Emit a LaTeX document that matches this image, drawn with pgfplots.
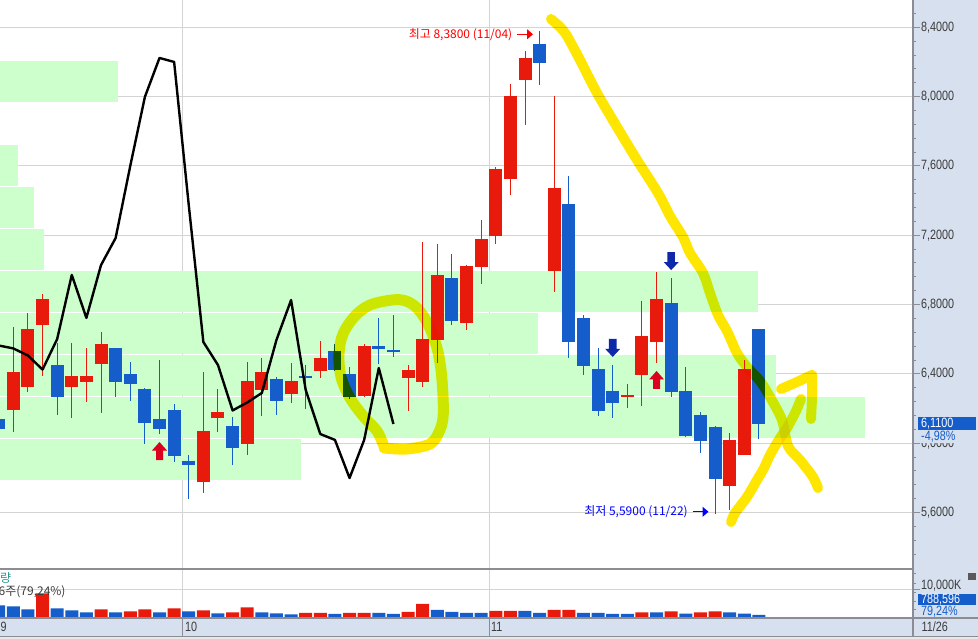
\documentclass[border=0pt]{standalone}
\usepackage{fontspec}
\setmainfont{Liberation Sans}
\newfontfamily\gul[FakeStretch=0.8]{Liberation Sans}
\newfontfamily\kr{Noto Sans CJK KR}
\usepackage{pgfplots}
\usepackage{pgfplotstable}
\pgfplotsset{compat=1.18}
\usetikzlibrary{arrows.meta}

\definecolor{upred}{RGB}{232,26,12}
\definecolor{dnblue}{RGB}{20,93,202}
\definecolor{band}{RGB}{204,255,204}
\definecolor{panel}{RGB}{214,224,238}
\definecolor{gridc}{RGB}{212,212,212}
\definecolor{edge}{RGB}{140,140,148}
\definecolor{lbl}{RGB}{60,60,60}
\definecolor{hl}{RGB}{255,230,0}
\definecolor{sigred}{RGB}{218,0,30}
\definecolor{sigblue}{RGB}{14,40,170}
\definecolor{teal2}{RGB}{40,150,150}

% block arrows used by the signal markers
\pgfdeclareplotmark{sigup}{%
  \pgfpathmoveto{\pgfpoint{0pt}{9pt}}%
  \pgfpathlineto{\pgfpoint{7.5pt}{0.5pt}}%
  \pgfpathlineto{\pgfpoint{3.5pt}{0.5pt}}%
  \pgfpathlineto{\pgfpoint{3.5pt}{-9pt}}%
  \pgfpathlineto{\pgfpoint{-3.5pt}{-9pt}}%
  \pgfpathlineto{\pgfpoint{-3.5pt}{0.5pt}}%
  \pgfpathlineto{\pgfpoint{-7.5pt}{0.5pt}}%
  \pgfpathclose\pgfusepathqfill}
\pgfdeclareplotmark{sigdown}{%
  \pgfpathmoveto{\pgfpoint{0pt}{-9pt}}%
  \pgfpathlineto{\pgfpoint{7.5pt}{-1pt}}%
  \pgfpathlineto{\pgfpoint{3.8pt}{-1pt}}%
  \pgfpathlineto{\pgfpoint{3.8pt}{9pt}}%
  \pgfpathlineto{\pgfpoint{-3.8pt}{9pt}}%
  \pgfpathlineto{\pgfpoint{-3.8pt}{-1pt}}%
  \pgfpathlineto{\pgfpoint{-7.5pt}{-1pt}}%
  \pgfpathclose\pgfusepathqfill}

% up days (red): index, open, high, low, close
\pgfplotstableread{
k o h l c
0 6.192 6.671 6.065 6.411
1 6.325 6.752 6.296 6.659
2 6.682 6.861 6.388 6.832
4 6.325 6.578 6.146 6.388
5 6.353 6.550 6.238 6.388
6 6.457 6.642 6.175 6.573
13 5.776 6.411 5.713 6.071
14 6.146 6.313 6.065 6.180
16 5.996 6.469 5.932 6.359
17 6.307 6.492 6.157 6.411
19 6.284 6.463 6.232 6.359
21 6.417 6.590 6.376 6.492
24 6.273 6.573 6.267 6.561
27 6.376 6.451 6.186 6.423
28 6.353 7.161 6.325 6.601
29 6.596 7.150 6.463 6.971
31 6.694 7.028 6.653 7.023
32 7.017 7.288 6.919 7.178
33 7.196 7.594 7.150 7.582
34 7.525 8.073 7.432 8.004
35 8.096 8.263 7.836 8.223
37 6.994 8.004 6.873 7.473
42 6.267 6.342 6.203 6.278
43 6.394 6.821 6.215 6.619
44 6.584 6.988 6.463 6.832
49 5.753 6.059 5.615 6.019
50 5.932 6.480 5.932 6.428
}\upc

% down days (blue)
\pgfplotstableread{
k o h l c
-1 6.140 6.150 6.070 6.082
3 6.451 6.578 6.163 6.267
7 6.550 6.550 6.267 6.353
8 6.400 6.469 6.244 6.342
9 6.313 6.319 5.996 6.117
10 6.140 6.480 6.053 6.082
11 6.192 6.226 5.892 5.926
12 5.898 5.932 5.678 5.874
15 6.100 6.151 5.874 5.973
18 6.371 6.382 6.163 6.244
20 6.388 6.451 6.198 6.376
22 6.532 6.573 6.417 6.423
23 6.400 6.440 6.255 6.267
25 6.561 6.723 6.457 6.544
26 6.538 6.740 6.498 6.527
30 6.953 7.092 6.682 6.705
36 8.304 8.380 8.067 8.194
38 7.380 7.542 6.492 6.584
39 6.723 6.740 6.394 6.446
40 6.428 6.550 6.157 6.186
41 6.301 6.451 6.146 6.232
45 6.809 6.953 6.267 6.296
46 6.301 6.440 6.036 6.042
47 6.163 6.180 5.944 6.013
48 6.094 6.100 5.590 5.794
51 6.659 6.659 6.024 6.110
}\dnc

% volume in thousands
\pgfplotstableread{
k v
2 8640
6 2800
8 2070
9 2800
11 3160
13 2430
15 1700
16 3530
20 1460
21 1460
23 1460
24 1460
27 1825
28 4745
33 2190
34 2190
37 2555
38 2555
43 1700
45 2080
47 1700
48 2080
}\volup
\pgfplotstableread{
k v
-1 4260
0 3900
1 2800
3 3160
4 2430
5 1700
7 1700
10 1700
12 2070
14 1340
17 1700
18 1340
19 975
22 1095
25 1460
26 1095
29 2555
30 1825
31 1460
32 1460
35 2190
36 1460
39 1460
40 1460
41 1095
42 1095
44 1700
46 1240
49 1700
50 1240
51 790
}\voldn

\begin{document}
\begin{tikzpicture}[
  px/.style={x=1pt,y=-1pt,shift={(0pt,639pt)}},
  lab/.style={inner sep=0pt, font=\gul\fontsize{13.5}{14}\selectfont, text=lbl}]
\begin{scope}[px]
  \fill[white] (0,0) rectangle (978,639);
  \fill[panel] (913,0) rectangle (978,618);
  \fill[panel] (0,618) rectangle (978,636.5);
  \fill[black!9] (0,636.5) rectangle (978,639);
\end{scope}

% ---------------- price panel ----------------
\begin{axis}[
  at={(0pt,71pt)}, anchor=south west, scale only axis,
  width=913pt, height=568pt,
  xmin=-0.91, xmax=61.54, ymin=5.28, ymax=8.5575,
  axis line style={draw=none},
  xtick={11.55,32.55}, xticklabels={},
  xmajorgrids, ymajorgrids,
  major grid style={gridc, line width=1pt},
  ytick={5.6,6.0,6.4,6.8,7.2,7.6,8.0,8.4},
  yticklabels={{5,6000},{6,0000},{6,4000},{6,8000},{7,2000},{7,6000},{8,0000},{8,4000}},
  minor ytick={5.36,5.44,...,8.56},
  ytick pos=right, yticklabel pos=right,
  tick align=outside, major tick length=7pt, minor tick length=3pt,
  tick style={edge, line width=1pt},
  xtick style={draw=none},
  yticklabel style={lab, anchor=west, inner sep=1pt},
]
% price-by-volume bands
\addplot[fill=band, draw=none] coordinates {(-2,7.969) (7.16,7.969) (7.16,8.2055) (-2,8.2055)} -- cycle;
\addplot[fill=band, draw=none] coordinates {(-2,7.4842) (0.32,7.4842) (0.32,7.7208) (-2,7.7208)} -- cycle;
\addplot[fill=band, draw=none] coordinates {(-2,7.2419) (1.42,7.2419) (1.42,7.4784) (-2,7.4784)} -- cycle;
\addplot[fill=band, draw=none] coordinates {(-2,6.9995) (2.10,6.9995) (2.10,7.2361) (-2,7.2361)} -- cycle;
\addplot[fill=band, draw=none] coordinates {(-2,6.7572) (50.94,6.7572) (50.94,6.9937) (-2,6.9937)} -- cycle;
\addplot[fill=band, draw=none] coordinates {(-2,6.5148) (35.89,6.5148) (35.89,6.7514) (-2,6.7514)} -- cycle;
\addplot[fill=band, draw=none] coordinates {(-2,6.2725) (52.2,6.2725) (52.2,6.5090) (-2,6.5090)} -- cycle;
\addplot[fill=band, draw=none] coordinates {(-2,6.0301) (58.26,6.0301) (58.26,6.2667) (-2,6.2667)} -- cycle;
\addplot[fill=band, draw=none] coordinates {(-2,5.7878) (19.68,5.7878) (19.68,6.0244) (-2,6.0244)} -- cycle;

% candles: wick from low to high, body from open to close
\addplot[draw=none, mark=none,
  error bars/.cd, y dir=plus, y explicit, error mark=none,
  error bar style={draw=upred, line width=1pt}]
  table[x=k, y=l, y error plus expr=\thisrow{h}-\thisrow{l}] {\upc};
\addplot[draw=none, mark=none,
  error bars/.cd, y dir=plus, y explicit, error mark=none,
  error bar style={draw=upred, line width=13pt}]
  table[x=k, y=o, y error plus expr=\thisrow{c}-\thisrow{o}] {\upc};
\addplot[draw=none, mark=none,
  error bars/.cd, y dir=plus, y explicit, error mark=none,
  error bar style={draw=dnblue, line width=1pt}]
  table[x=k, y=l, y error plus expr=\thisrow{h}-\thisrow{l}] {\dnc};
\addplot[draw=none, mark=none,
  error bars/.cd, y dir=plus, y explicit, error mark=none,
  error bar style={draw=dnblue, line width=13pt}]
  table[x=k, y=c, y error plus expr=\thisrow{o}-\thisrow{c}] {\dnc};

% black overlay line
\addplot[black, line width=2.4pt, line join=round] coordinates {
(-1,6.564) (0,6.547) (1,6.506) (2,6.425) (3,6.601) (4,6.971) (5,6.723)
(6,7.028) (7,7.184) (8,7.600) (9,7.998) (10,8.223) (11,8.200) (12,7.375)
(13,6.584) (14,6.451) (15,6.189) (16,6.235) (17,6.290) (18,6.596) (19,6.826)
(20,6.307) (21,6.053) (22,6.019) (23,5.799) (24,6.019) (25,6.434) (26,6.111)};

% signals
\addplot[sigred, only marks, mark=sigup] coordinates {(10,5.955) (44,6.365)};
\addplot[sigblue, only marks, mark=sigdown] coordinates {(41,6.550) (45,7.051)};
\end{axis}

% ---------------- volume panel ----------------
\begin{axis}[
  at={(0pt,22pt)}, anchor=south west, scale only axis,
  width=913pt, height=48pt,
  xmin=-0.91, xmax=61.54, ymin=0, ymax=17518,
  axis line style={draw=none},
  xtick={11.55,32.55}, xticklabels={},
  xmajorgrids, ymajorgrids,
  major grid style={gridc, line width=1pt},
  scaled y ticks=false,
  ytick={10000}, yticklabels={{10,000K},{}},
  minor ytick={2600,5500,8800,12400,16000},
  ytick pos=right, yticklabel pos=right,
  tick align=outside, major tick length=7pt, minor tick length=3pt,
  tick style={edge, line width=1pt},
  xtick style={draw=none},
  yticklabel style={lab, anchor=west, inner sep=1pt, yshift=3.5pt},
]
\addplot[ybar, bar width=13pt, bar shift=0pt, fill=upred, draw=none] table[x=k, y=v] {\volup};
\addplot[ybar, bar width=13pt, bar shift=0pt, fill=dnblue, draw=none] table[x=k, y=v] {\voldn};
\end{axis}

\begin{scope}[px]
  % frame lines
  \draw[edge, line width=1.2pt] (0,569) -- (913,569);
  \draw[edge, line width=1.5pt] (0,618) -- (978,618);
  \draw[edge, line width=1.5pt] (0,636.5) -- (978,636.5);
  \draw[edge, line width=1.6pt] (913,0) -- (913,637);
  \draw[edge, line width=1pt] (182.6,618) -- (182.6,636.5);
  \draw[edge, line width=1pt] (489,618) -- (489,636.5);

  % date strip
  \node[lab, anchor=west] at (0.5,626.5) {9};
  \node[lab, anchor=west] at (185,626.5) {10};
  \node[lab, anchor=west] at (491,626.5) {11};
  \node[lab, anchor=west] at (921.5,626.5) {11/26};

  % volume panel texts
  \node[anchor=west, inner sep=0pt, text=teal2, font=\kr\fontsize{12}{12}\selectfont] at (0,578) {량};
  \node[anchor=west, inner sep=0pt, text=lbl, font=\kr\fontsize{12}{12}\selectfont] at (-1.5,591.5) {6주(79,24\%)};
  \fill[gray!70!black] (968,573) rectangle (976,580);
  \fill[dnblue] (918,594) rectangle (976,605.5);
  \node[lab, anchor=west, text=white] at (921,599.8) {788,596};
  \node[lab, anchor=west, text=dnblue] at (921,611.5) {79,24\%};

  % current price
  \fill[dnblue] (918,417) rectangle (976,430);
  \node[lab, anchor=west, text=white] at (921,423.5) {6,1100};
  \node[lab, anchor=west, text=dnblue, fill=panel, inner ysep=1pt] at (921,436.5) {-4,98\%};

  % highlighter strokes
  \begin{scope}[blend mode=multiply, hl, line cap=round, line join=round]
    \draw[line width=10pt] plot[smooth, tension=0.5] coordinates {
      (551,19) (560,27) (567,36) (580,60) (597,93) (617,127) (637,160) (658,193)
      (670,216) (683,237) (690,253) (703,273) (710,293) (718,315) (727,331)
      (737,353) (747,367) (760,381) (770,397) (782,420) (788,446) (800,460)
      (813,477) (818,488)};
    \draw[line width=10pt] plot[smooth, tension=0.5] coordinates {
      (731,522) (735,513) (747,497) (757,480) (764,468) (770,455) (780,438)
      (787,428) (796,411) (801,399)};
    \draw[line width=10pt] (781,389) -- (797,382) -- (812,375) -- (812,398) -- (811,419);
    \draw[line width=11pt] plot[smooth, tension=0.55] coordinates {
      (384,448) (407,449) (430,444) (439,432) (443,418) (443,396) (441,370)
      (437,348) (429,326) (418,309) (406,301) (392,300) (370,305) (355,316)
      (343,334) (339,354) (341,377) (350,398) (364,417) (377,431) (383,444)};
  \end{scope}

  % high / low notes
  \node[anchor=east, inner sep=0pt, text=red, font=\kr\fontsize{12}{12}\selectfont]
    at (512.5,34.3) {최고 8,3800 (11/04)};
  \draw[red, line width=1pt, -{Triangle[length=6pt,width=10pt]}] (517,34.3) -- (533,34.3);
  \node[anchor=east, inner sep=0pt, text=blue, font=\kr\fontsize{12}{12}\selectfont]
    at (688,511.8) {최저 5,5900 (11/22)};
  \draw[blue, line width=1pt, -{Triangle[length=6pt,width=10pt]}] (692.5,511.8) -- (708.5,511.8);
\end{scope}
\pgfresetboundingbox
\path[use as bounding box] (0pt,0pt) rectangle (978pt,639pt);
\end{tikzpicture}
\end{document}
